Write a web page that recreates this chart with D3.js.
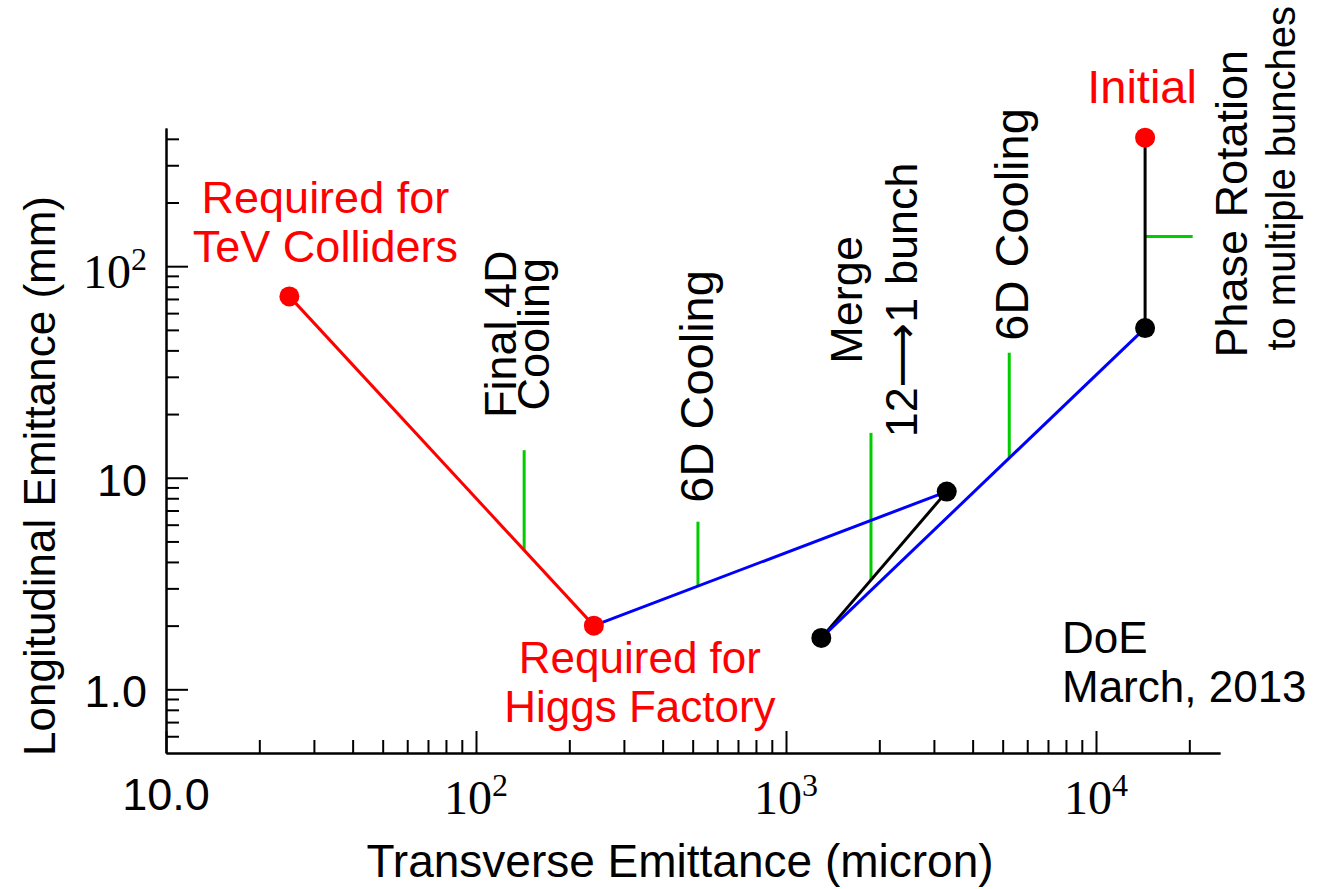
<!DOCTYPE html>
<html>
<head>
<meta charset="utf-8">
<script src="https://cdn.jsdelivr.net/npm/d3@7"></script>
<style>
  body { margin: 0; background: #fff; }
  svg { display: block; }
  text { font-family: "Liberation Sans", Arial, "DejaVu Sans", sans-serif; }
</style>
</head>
<body>
<svg id="chart" width="1319" height="889"></svg>
<script>
// ---- Emittance evolution of the muon beam (transverse in micron, longitudinal in mm)
const stageNames  = ["TeV Colliders", "Higgs Factory", "After first 6D", "Before merge", "After phase rotation", "Initial"];
const transverse  = [25, 240, 3300, 1300, 14400, 14400];
const longitudinal = [72, 2.0, 8.6, 1.75, 51, 405];
const stageColor  = ["#ff0000", "#ff0000", "#000000", "#000000", "#000000", "#ff0000"];

// Path segments between stages (index pairs) and their colours
const segFrom  = [0, 1, 2, 3, 4];
const segTo    = [1, 2, 3, 4, 5];
const segColor = ["#ff0000", "#0000ff", "#000000", "#0000ff", "#000000"];

// Green stage markers: position on the path segment and top end
const markerX       = [143, 520, 1880, 5250];
const markerTop     = [13.5, 6.2, 16.3, 39];
const markerSegment = [0, 1, 2, 3];

// Horizontal marker on the phase rotation segment
const rotationMarkerY    = 138;
const rotationMarkerXEnd = 20500;

// Axis ticks
const xTickValues = [10, 100, 1000, 10000];
const xTickText   = ["10.0", "10^2", "10^3", "10^4"];
const yTickValues = [1, 10, 100];
const yTickText   = ["1.0", "10", "10^2"];

const svg = d3.select("#chart");
const x = d3.scaleLog().domain([10, Math.pow(10, 4.4)]).range([166, 1220]);
const y = d3.scaleLog().domain([0.5, 450]).range([753, 128]);

const green = "#00cc00";

// minor tick positions inside each decade
function minorTicks(scale) {
  const [a, b] = scale.domain();
  const out = [];
  for (let d = Math.pow(10, Math.floor(Math.log10(a))); d < b; d *= 10) {
    for (let k = 2; k <= 9; k++) {
      const v = k * d;
      if (v > a * 1.0001 && v < b) out.push(v);
    }
  }
  return out;
}

// ---- axes (ticks pointing into the plot)
const axisG = svg.append("g");
function styleAxis(g) {
  g.selectAll("path.domain").attr("stroke", "#000").attr("stroke-width", 2);
  g.selectAll(".tick line").attr("stroke", "#000").attr("stroke-width", 2);
  g.selectAll(".tick text").remove();
}
axisG.append("g").attr("transform", `translate(0,${y.range()[0]})`)
  .call(d3.axisBottom(x).tickValues(minorTicks(x)).tickSizeInner(-13).tickSizeOuter(0).tickFormat(""))
  .call(styleAxis);
axisG.append("g").attr("transform", `translate(0,${y.range()[0]})`)
  .call(d3.axisBottom(x).tickValues(xTickValues).tickSizeInner(-22).tickSizeOuter(0).tickFormat(""))
  .call(styleAxis);
axisG.append("g").attr("transform", `translate(${x.range()[0]},0)`)
  .call(d3.axisLeft(y).tickValues(minorTicks(y)).tickSizeInner(-13).tickSizeOuter(0).tickFormat(""))
  .call(styleAxis);
axisG.append("g").attr("transform", `translate(${x.range()[0]},0)`)
  .call(d3.axisLeft(y).tickValues(yTickValues).tickSizeInner(-22).tickSizeOuter(0).tickFormat(""))
  .call(styleAxis);

// tick label: plain sans text, or serif power of ten written as "10^n"
function tickLabel(g, label, px, py, anchor) {
  const t = g.append("text").attr("x", px).attr("text-anchor", anchor).attr("fill", "#000");
  if (label.includes("^")) {
    const [base, exp] = label.split("^");
    t.attr("y", py + 4).style("font-family", "'Liberation Serif', 'DejaVu Serif', serif").style("font-size", "48px");
    t.append("tspan").text(base);
    t.append("tspan").attr("dy", -18).style("font-size", "32px").text(exp);
  } else {
    t.attr("y", py).style("font-size", "45px").text(label);
  }
}
const labelG = svg.append("g");
xTickValues.forEach((v, i) => tickLabel(labelG, xTickText[i], x(v), y.range()[0] + 57, "middle"));
yTickValues.forEach((v, i) => tickLabel(labelG, yTickText[i], 147, y(v) + 18, "end"));

// axis titles
svg.append("text").attr("x", 680).attr("y", 877).attr("text-anchor", "middle")
  .style("font-size", "46px").text("Transverse Emittance (micron)");
svg.append("text").attr("transform", `translate(55,476) rotate(-90)`).attr("text-anchor", "middle")
  .style("font-size", "44px").text("Longitudinal Emittance (mm)");

// ---- green stage markers
function pointOnSegment(s, xv) {
  const a = segFrom[s], b = segTo[s];
  const t = (Math.log10(xv) - Math.log10(transverse[a])) / (Math.log10(transverse[b]) - Math.log10(transverse[a]));
  return Math.pow(10, Math.log10(longitudinal[a]) + t * (Math.log10(longitudinal[b]) - Math.log10(longitudinal[a])));
}
const markG = svg.append("g");
markerX.forEach((mx, i) => {
  markG.append("line")
    .attr("x1", x(mx)).attr("x2", x(mx))
    .attr("y1", y(pointOnSegment(markerSegment[i], mx))).attr("y2", y(markerTop[i]))
    .attr("stroke", green).attr("stroke-width", 3);
});
markG.append("line")
  .attr("x1", x(transverse[4])).attr("x2", x(rotationMarkerXEnd))
  .attr("y1", y(rotationMarkerY)).attr("y2", y(rotationMarkerY))
  .attr("stroke", green).attr("stroke-width", 3);

// ---- emittance path
const pathG = svg.append("g");
segFrom.forEach((a, i) => {
  const b = segTo[i];
  pathG.append("line")
    .attr("x1", x(transverse[a])).attr("y1", y(longitudinal[a]))
    .attr("x2", x(transverse[b])).attr("y2", y(longitudinal[b]))
    .attr("stroke", segColor[i]).attr("stroke-width", 3);
});
pathG.selectAll("circle").data(d3.range(stageNames.length)).join("circle")
  .attr("cx", i => x(transverse[i])).attr("cy", i => y(longitudinal[i]))
  .attr("r", 10).attr("fill", i => stageColor[i]);

// ---- annotations
function textBlock(px, py, lines, opts) {
  const g = svg.append("g").attr("transform", `translate(${px},${py})${opts.rotate ? " rotate(-90)" : ""}`);
  lines.forEach((ln, i) => {
    g.append("text").attr("x", 0).attr("y", i * opts.gap)
      .attr("text-anchor", opts.anchor || "start")
      .attr("fill", opts.color || "#000")
      .style("font-size", (opts.sizes ? opts.sizes[i] : opts.size) + "px")
      .text(ln);
  });
}
// point labels
textBlock(x(transverse[0]) + 36, y(longitudinal[0]) - 83, ["Required for", "TeV Colliders"], {anchor: "middle", size: 45, gap: 49, color: "#ff0000"});
textBlock(x(transverse[1]) + 46, y(longitudinal[1]) + 47, ["Required for", "Higgs Factory"], {anchor: "middle", size: 44, gap: 49, color: "#ff0000"});
textBlock(x(transverse[5]) - 3, y(longitudinal[5]) - 35, ["Initial"], {anchor: "middle", size: 47, gap: 0, color: "#ff0000"});

// stage labels, written vertically
const mx = i => x(markerX[i]);
const my = i => y(markerTop[i]);
textBlock(mx(0) - 8, my(0) - 116, ["Final 4D", "Cooling"], {rotate: true, anchor: "middle", size: 45, gap: 33});
textBlock(mx(1) + 15, my(1) - 19, ["6D Cooling"], {rotate: true, size: 47, gap: 0});
textBlock(mx(2) - 9, my(2) - 133, ["Merge", "12\u27F61 bunch"], {rotate: true, anchor: "middle", size: 45, gap: 55});
textBlock(mx(3) + 19, my(3) - 12, ["6D Cooling"], {rotate: true, size: 47, gap: 0});
textBlock(x(transverse[4]) + 102, y(rotationMarkerY) + 121, ["Phase Rotation"], {rotate: true, size: 45, gap: 0});
textBlock(x(transverse[4]) + 150, y(rotationMarkerY) + 114, ["to multiple bunches"], {rotate: true, size: 40, gap: 0});

// date note
textBlock(1062, 653, ["DoE", "March, 2013"], {size: 44, gap: 49});
</script>
</body>
</html>
